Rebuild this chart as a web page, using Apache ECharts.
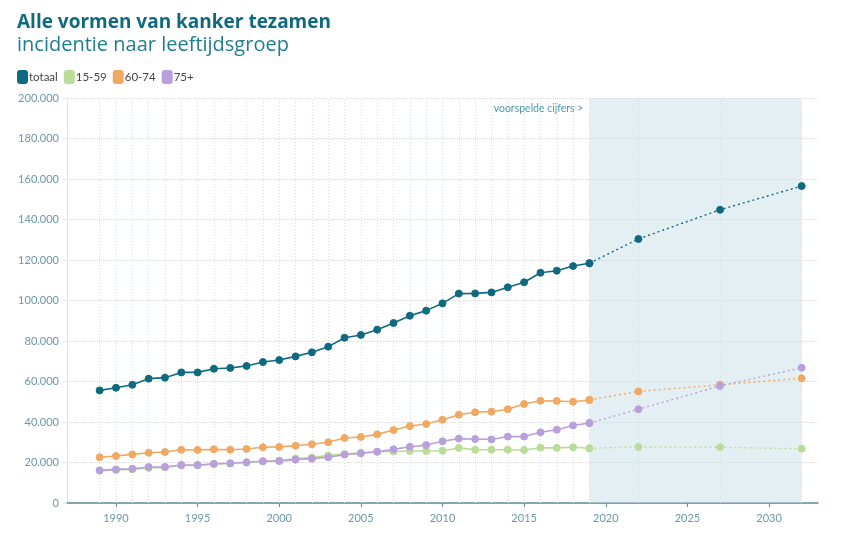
<!DOCTYPE html>
<html>
<head>
<meta charset="utf-8">
<script src="https://cdn.jsdelivr.net/npm/echarts@6/dist/echarts.min.js"></script>
<style>
  html, body { margin: 0; padding: 0; background: #fff; }
  #chart { width: 843px; height: 542px; }
</style>
</head>
<body>
<div id="chart"></div>
<script>
// gemeten jaren en voorspelling
var years = [1989, 1990, 1991, 1992, 1993, 1994, 1995, 1996, 1997, 1998, 1999, 2000,
  2001, 2002, 2003, 2004, 2005, 2006, 2007, 2008, 2009, 2010, 2011, 2012, 2013,
  2014, 2015, 2016, 2017, 2018, 2019];
var forecastYears = [2019, 2022, 2027, 2032];
var tickYears = [1990, 1995, 2000, 2005, 2010, 2015, 2020, 2025, 2030];

var totaal = [55600, 56900, 58400, 61400, 61900, 64500, 64500, 66300, 66700, 67700,
  69600, 70600, 72400, 74400, 77200, 81600, 83000, 85600, 88900, 92500, 95000,
  98600, 103400, 103500, 104000, 106500, 109000, 113700, 114700, 117000, 118400];
var g15_59 = [16000, 16300, 16600, 17300, 17600, 18500, 18500, 19200, 19500, 20000,
  20600, 21000, 22000, 22500, 23500, 24200, 24800, 25300, 25400, 25700, 25700,
  25800, 27200, 26300, 26300, 26300, 26200, 27300, 27200, 27500, 27000];
var g60_74 = [22600, 23200, 24000, 24800, 25200, 26300, 26200, 26500, 26300, 26700,
  27500, 27700, 28300, 29000, 30000, 32100, 32600, 33900, 36000, 38000, 39000,
  41100, 43600, 44800, 45100, 46300, 48900, 50500, 50400, 50000, 50900];
var g75plus = [16100, 16600, 16900, 17800, 17800, 18800, 18800, 19400, 19600, 20100,
  20600, 20700, 21400, 21900, 22600, 23900, 24500, 25300, 26500, 27800, 28600,
  30500, 31800, 31600, 31400, 32800, 32800, 34900, 36200, 38300, 39500];

var totaalF = [118400, 130400, 144800, 156500];
var g15_59F = [27000, 27700, 27500, 26800];
var g60_74F = [50900, 55100, 58400, 61600];
var g75plusF = [39500, 46300, 57800, 66800];

var colors = {
  totaal: '#0f6a80',
  '15-59': '#b9dd96',
  '60-74': '#f0a862',
  '75+': '#b9a0dc'
};

function pairs(xs, vs) {
  return xs.map(function (x, i) { return [x, vs[i]]; });
}

function fmt(v) {
  return String(v).replace(/\B(?=(\d{3})+(?!\d))/g, '.');
}

var groups = [
  ['totaal', totaal, totaalF],
  ['15-59', g15_59, g15_59F],
  ['60-74', g60_74, g60_74F],
  ['75+', g75plus, g75plusF]
];

var series = [
  {
    // achtergrond: voorspelde periode + verticale hulplijnen
    type: 'line', data: [], silent: true, z: 1,
    markArea: {
      silent: true, z: 1,
      itemStyle: { color: 'rgba(190, 218, 228, 0.42)' },
      label: {
        show: true, position: [-6, 5], align: 'right',
        color: '#4f9aab', fontSize: 10.5, fontFamily: 'Lato'
      },
      data: [[{ xAxis: 2019, name: 'voorspelde cijfers >' }, { xAxis: 2032 }]]
    },
    markLine: {
      silent: true, z: 1, symbol: ['none', 'none'], label: { show: false },
      lineStyle: { type: [1, 2], color: '#cfe2e7', width: 1 },
      data: years.concat(forecastYears.slice(1)).map(function (y) { return { xAxis: y }; })
    }
  }
];

groups.forEach(function (g) {
  var c = colors[g[0]];
  var marker = { color: c, borderColor: c, borderWidth: 1, opacity: 1 };
  series.push({
    name: g[0], type: 'line', z: 10,
    data: pairs(years, g[1]),
    symbol: 'circle', symbolSize: 7,
    itemStyle: marker,
    lineStyle: { color: c, width: 1.6 }
  });
  series.push({
    name: g[0], type: 'line', z: 10,
    data: pairs(forecastYears, g[2]),
    symbol: 'circle', symbolSize: 7,
    itemStyle: marker,
    lineStyle: { color: c, width: 1.4, type: [2, 3] }
  });
});

var chart = echarts.init(document.getElementById('chart'));
chart.setOption({
  animation: false,
  textStyle: { fontFamily: 'Lato' },
  title: {
    left: 12, top: 8,
    text: 'Alle vormen van kanker tezamen',
    subtext: 'incidentie naar leeftijdsgroep',
    itemGap: 3,
    textStyle: { fontSize: 19, fontWeight: 'bold', color: '#0f6a80', fontFamily: 'Open Sans' },
    subtextStyle: { fontSize: 20, color: '#1f7d93', fontFamily: 'Open Sans' }
  },
  legend: {
    left: 12, top: 65,
    data: ['totaal', '15-59', '60-74', '75+'],
    icon: 'roundRect', itemWidth: 9, itemHeight: 12, itemGap: 6,
    textStyle: { fontSize: 11.5, color: '#444', padding: [0, 0, 0, -3] }
  },
  grid: { left: 67, right: 25, top: 98, bottom: 39, containLabel: false },
  xAxis: {
    type: 'value', min: 1987, max: 2033,
    splitLine: { show: false },
    axisLine: { lineStyle: { color: '#5f8c9c', width: 1.5 } },
    axisTick: { show: true, length: 4, customValues: tickYears, lineStyle: { color: '#5f8c9c' } },
    axisLabel: {
      customValues: tickYears, color: '#6a98a8', fontSize: 11, margin: 10,
      formatter: function (v) { return String(v); }
    }
  },
  yAxis: {
    type: 'value', min: 0, max: 200000, interval: 20000,
    axisLine: { show: true, lineStyle: { color: '#dde8eb' } },
    axisTick: { show: true, length: 4, lineStyle: { color: '#dde8eb' } },
    axisLabel: { color: '#6a98a8', fontSize: 11, margin: 8, formatter: fmt },
    splitLine: { lineStyle: { type: 'dotted', color: '#cfe1e6' } }
  },
  series: series
});
</script>
</body>
</html>
